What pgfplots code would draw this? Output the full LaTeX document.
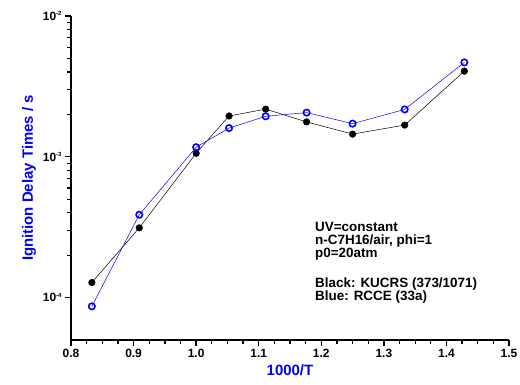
\documentclass[border=0pt]{standalone}
\usepackage{pgfplots}
\pgfplotsset{compat=1.18}
\usepackage{fontspec}
\setmainfont{Liberation Sans}
\definecolor{myblue}{RGB}{0,0,255}
\pgfplotstableread{
x y
0.8333 1.28e-4
0.9091 3.13e-4
1.0000 1.06e-3
1.0526 1.95e-3
1.1111 2.18e-3
1.1765 1.77e-3
1.2500 1.45e-3
1.3333 1.68e-3
1.4286 4.06e-3
}\blackdata
\pgfplotstableread{
x y
0.8333 8.67e-5
0.9091 3.88e-4
1.0000 1.17e-3
1.0526 1.60e-3
1.1111 1.94e-3
1.1765 2.06e-3
1.2500 1.72e-3
1.3333 2.17e-3
1.4286 4.68e-3
}\bluedata
\begin{document}
\begin{tikzpicture}[x=1bp,y=1bp]
\useasboundingbox (0,0) rectangle (520,384);
\begin{axis}[
  at={(71bp,44bp)}, anchor=south west,
  scale only axis, width=438bp, height=324bp,
  xmin=0.8, xmax=1.5, ymode=log, ymin=5e-5, ymax=1e-2,
  axis x line*=bottom, axis y line*=left,
  axis line style={line width=1.5bp},
  tick align=outside,
  major tick length=6bp, minor tick length=4bp,
  every tick/.style={line width=1.3bp, black},
  xtick={0.8,0.9,1.0,1.1,1.2,1.3,1.4,1.5},
  xticklabels={0.8,0.9,1.0,1.1,1.2,1.3,1.4,1.5},
  minor x tick num=3,
  ytick={1e-4,1e-3,1e-2},
  yticklabels={10\raisebox{0.75ex}{\fontsize{6}{6}\selectfont -4},10\raisebox{0.75ex}{\fontsize{6}{6}\selectfont -3},10\raisebox{0.75ex}{\fontsize{6}{6}\selectfont -2}},
  tick label style={font=\bfseries\fontsize{12}{12}\selectfont},
  xlabel={1000/T},
  ylabel={Ignition Delay Times / s},
  label style={font=\bfseries\fontsize{15}{15}\selectfont, text=myblue},
  clip=false,
]
\addplot[black, line width=0.5bp, mark=*, mark size=3.3bp, mark options={fill=black}] table {\blackdata};
\addplot[myblue, line width=0.5bp, mark=o, mark size=3.2bp, mark options={line width=1.6bp, fill=white}] table {\bluedata};
\node[anchor=base west, inner sep=0, font=\bfseries\fontsize{13.5}{13.5}\selectfont] at (axis description cs:0.557,0.3355) {UV=constant};
\node[anchor=base west, inner sep=0, font=\bfseries\fontsize{13.5}{13.5}\selectfont] at (axis description cs:0.557,0.2954) {n-C7H16/air, phi=1};
\node[anchor=base west, inner sep=0, font=\bfseries\fontsize{13.5}{13.5}\selectfont] at (axis description cs:0.557,0.2553) {p0=20atm};
\node[anchor=base west, inner sep=0, font=\bfseries\fontsize{13.5}{13.5}\selectfont] at (axis description cs:0.557,0.1627) {Black: KUCRS (373/1071)};
\node[anchor=base west, inner sep=0, font=\bfseries\fontsize{13.5}{13.5}\selectfont] at (axis description cs:0.557,0.1213) {Blue: RCCE (33a)};
\end{axis}
\end{tikzpicture}
\end{document}
